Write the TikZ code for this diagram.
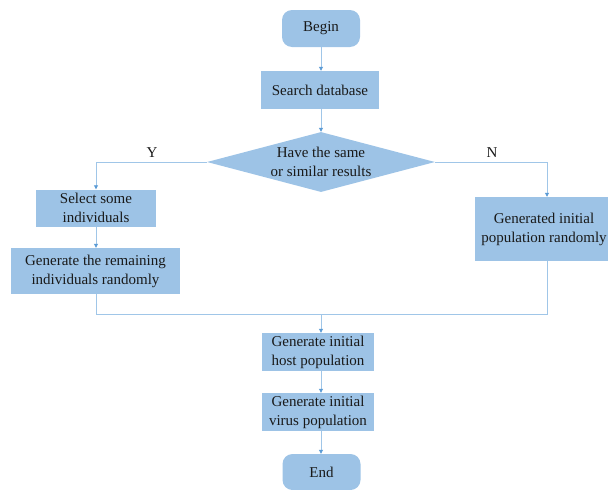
\documentclass[tikz,border=0pt]{standalone}
\usepackage{fontspec}
\setmainfont{Liberation Serif}
\usetikzlibrary{shapes.geometric,arrows.meta}
\definecolor{boxfill}{RGB}{157,195,230}
\definecolor{linkline}{RGB}{160,198,232}
\definecolor{tipcol}{RGB}{91,155,213}
\definecolor{inktext}{RGB}{25,25,25}
\begin{document}
\begin{tikzpicture}[x=1pt,y=-1pt,
  every node/.style={font=\fontsize{15}{19}\selectfont, text=inktext},
  procbox/.style={draw=none, fill=boxfill, rectangle, align=center, inner sep=0pt},
  termbox/.style={procbox, rounded corners=10pt},
  decision/.style={draw=none, fill=boxfill, diamond, inner sep=0pt, minimum width=228pt, minimum height=60pt},
  link/.style={draw=linkline, line width=0.8pt},
  arr/.style={link, -{Triangle[length=4pt,width=4pt,color=tipcol]}}]
\useasboundingbox (0,0) rectangle (608,490);
\clip (0,0) rectangle (608,490);

% nodes
\node[termbox, minimum width=78pt, minimum height=37pt] (begin) at (321,28.5) {Begin};
\node[procbox, minimum width=118pt, minimum height=38pt] (search) at (320,90) {Search database};
\node[decision] (dec) at (321,162) {};
\node[align=center, inner sep=0pt] (dectext) at (321,162) {Have the same\\or similar results};
\node[procbox, minimum width=120pt, minimum height=37pt] (select) at (96,208) {Select some\\individuals};
\node[procbox, minimum width=169pt, minimum height=46pt] (remain) at (95.5,271) {Generate the remaining\\individuals randomly};
\node[procbox, minimum width=138pt, minimum height=64pt] (randpop) at (544,229) {Generated initial\\population randomly};
\node[procbox, minimum width=112pt, minimum height=38pt] (host) at (318,352) {Generate initial\\host population};
\node[procbox, minimum width=112pt, minimum height=38pt] (virus) at (318,412) {Generate initial\\virus population};
\node[termbox, minimum width=78pt, minimum height=36pt] (end) at (321.5,472) {End};

% branch labels
\node (ylab) at (152,153) {Y};
\node (nlab) at (492,153) {N};

% junction points
\coordinate (yturn) at (96,162);
\coordinate (nturn) at (547,162);
\coordinate (lmerge) at (96,314);
\coordinate (rmerge) at (547,314);
\coordinate (cmerge) at (321,314);

% connectors
\draw[arr] (begin.south) -- (begin.south |- search.north);
\draw[arr] (search.south -| begin.south) -- (dec.north);
\draw[arr] (dec.west) -- (yturn) -- (select.north);
\draw[arr] (dec.east) -- (nturn) -- (nturn |- randpop.north);
\draw[arr] (select.south) -- (select.south |- remain.north);
\draw[link] (remain.south -| select.south) -- (lmerge) -- (rmerge) -- (rmerge |- randpop.south);
\draw[arr] (cmerge) -- (cmerge |- host.north);
\draw[arr] (host.south -| cmerge) -- (cmerge |- virus.north);
\draw[arr] (virus.south -| cmerge) -- (cmerge |- end.north);
\end{tikzpicture}
\end{document}
